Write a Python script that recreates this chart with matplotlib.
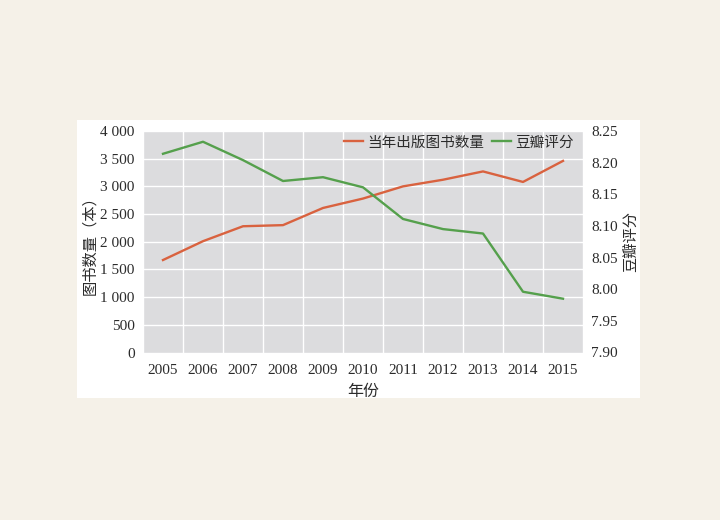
import matplotlib
matplotlib.use("Agg")
import matplotlib.pyplot as plt
from matplotlib.ticker import FuncFormatter, MultipleLocator
from matplotlib.patches import Rectangle

plt.rcParams['font.family'] = ['Liberation Serif', 'Noto Sans CJK SC', 'DejaVu Sans']

years = [2005, 2006, 2007, 2008, 2009, 2010, 2011, 2012, 2013, 2014, 2015]
books = [1670, 2010, 2280, 2300, 2610, 2780, 3000, 3120, 3270, 3080, 3460]
ratings = [8.214, 8.233, 8.204, 8.171, 8.177, 8.161, 8.111, 8.095, 8.088, 7.996, 7.985]
year_labels = [str(y) for y in years]
books_label = "当年出版图书数量"
rating_label = "豆瓣评分"

red = "#d9623f"
green = "#55a04c"
txt = "#2b2b2b"

fig = plt.figure(figsize=(7.2, 5.2), dpi=100)
fig.patch.set_facecolor("#f5f1e8")
fig.patches.append(Rectangle((77/720, 1-398/520), (640-77)/720, (398-120)/520,
                             transform=fig.transFigure, facecolor="white",
                             edgecolor="none", zorder=-10))

ax = fig.add_axes([143/720, 1-352.5/520, 440/720, 221.5/520])
ax.set_facecolor("#dcdcde")
for s in ax.spines.values():
    s.set_visible(False)

l1, = ax.plot(years, books, color=red, lw=1.7, label=books_label, zorder=3)
ax.set_xlim(2004.5, 2015.5)
ax.set_ylim(0, 4000)
ax.set_xticks(years)
ax.set_xticklabels(year_labels)
ax.xaxis.set_minor_locator(MultipleLocator(1, offset=0.5))
ax.yaxis.set_major_locator(MultipleLocator(500))
ax.yaxis.set_major_formatter(FuncFormatter(lambda v, p: f"{int(v):,}".replace(",", " ")))
ax.grid(True, which="minor", axis="x", color="white", lw=1.0)
ax.grid(True, which="major", axis="y", color="white", lw=1.0)
ax.set_axisbelow(True)
ax.tick_params(which="both", length=0, labelsize=11, colors=txt, pad=6)
ax.tick_params(axis="x", pad=8)

ax2 = ax.twinx()
for s in ax2.spines.values():
    s.set_visible(False)
l2, = ax2.plot(years, ratings, color=green, lw=1.7, label=rating_label, zorder=3)
ax2.set_ylim(7.90, 8.25)
ax2.yaxis.set_major_locator(MultipleLocator(0.05))
ax2.yaxis.set_major_formatter(FuncFormatter(lambda v, p: f"{v:.2f}"))
ax2.tick_params(length=0, labelsize=11, colors=txt, pad=6)

ax.set_xlabel("年份", fontsize=11.5, color=txt, labelpad=5)
ax.set_ylabel("图书数量（本）", fontsize=11, color=txt, labelpad=2)
ax2.set_ylabel(rating_label, fontsize=11, color=txt, rotation=90, labelpad=5)

leg = ax2.legend(handles=[l1, l2], loc="upper right", ncol=2, frameon=False,
                 fontsize=10.5, handlelength=1.3, handletextpad=0.3,
                 columnspacing=0.5, borderaxespad=0.1,
                 bbox_to_anchor=(0.995, 1.01))
for t in leg.get_texts():
    t.set_color(txt)

fig.savefig("out.png", dpi=100, facecolor=fig.get_facecolor())
